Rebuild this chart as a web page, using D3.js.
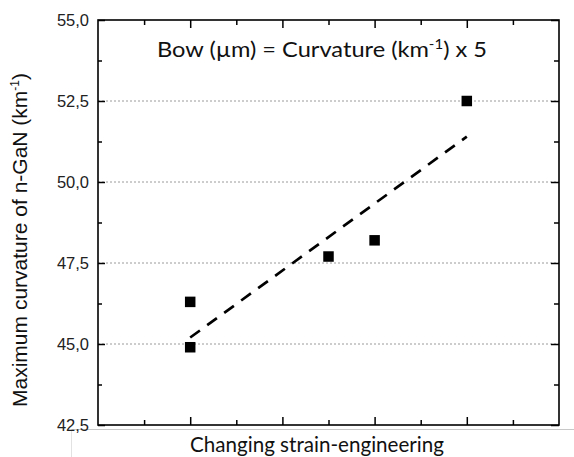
<!DOCTYPE html>
<html>
<head>
<meta charset="utf-8">
<script src="https://cdn.jsdelivr.net/npm/d3@7"></script>
<style>
  body { margin: 0; background: #fff; }
  #chart-container { width: 574px; height: 457px; }
</style>
</head>
<body>
<div id="chart-container"></div>
<script>
// measured points
var xValues = [1, 1, 2.5, 3, 4];
var yValues = [46.3, 44.9, 47.7, 48.2, 52.5];
// dashed fit line, ends
var fitX = [1, 4];
var fitY = [45.2, 51.4];
var yMajorTicks = [42.5, 45, 47.5, 50, 52.5, 55];
var yMinorTicks = [43.75, 46.25, 48.75, 51.25, 53.75];
var yGridTicks = [45, 47.5, 50, 52.5];
var xMajorTicks = [1, 2, 3, 4];
var xMinorTicks = [0.5, 1.5, 2.5, 3.5, 4.5];
var xTitle = "Changing strain-engineering";

var width = 574;
var height = 457;
var plotLeft = 98, plotRight = 559, plotTop = 20, plotBottom = 425;

var locale = d3.formatLocale({decimal: ",", thousands: ".", grouping: [3], currency: ["", ""]});
var fmt = locale.format(".1f");

var svg = d3.select("#chart-container").append("svg")
    .attr("width", width)
    .attr("height", height);

var x = d3.scaleLinear().domain([0, 5]).range([plotLeft, plotRight]);
var y = d3.scaleLinear().domain([42.5, 55]).range([plotBottom, plotTop]);

// faint frame of the pasted picture
svg.append("line")
    .attr("x1", 71).attr("x2", width).attr("y1", 429.5).attr("y2", 429.5)
    .attr("stroke", "#c8c8c8").attr("stroke-width", 1);
svg.append("line")
    .attr("x1", 71.5).attr("x2", 71.5).attr("y1", 429).attr("y2", height)
    .attr("stroke", "#e2e2e2").attr("stroke-width", 1);

// grid
svg.append("g").selectAll("line")
    .data(yGridTicks)
    .enter().append("line")
    .attr("x1", plotLeft).attr("x2", plotRight)
    .attr("y1", function(d) { return y(d); })
    .attr("y2", function(d) { return y(d); })
    .attr("stroke", "#9a9a9a")
    .attr("stroke-width", 1)
    .attr("stroke-dasharray", "2,2");

// axes, ticks pointing inwards
function tickAxis(axisFn, scale, ticks, size) {
    return axisFn(scale).tickValues(ticks).tickSize(-size).tickFormat("");
}
var axisGroups = [
    svg.append("g").attr("transform", "translate(0," + plotBottom + ")").call(tickAxis(d3.axisBottom, x, xMajorTicks, 8)),
    svg.append("g").attr("transform", "translate(0," + plotBottom + ")").call(tickAxis(d3.axisBottom, x, xMinorTicks, 5)),
    svg.append("g").attr("transform", "translate(0," + plotTop + ")").call(tickAxis(d3.axisTop, x, xMajorTicks, 8)),
    svg.append("g").attr("transform", "translate(0," + plotTop + ")").call(tickAxis(d3.axisTop, x, xMinorTicks, 5)),
    svg.append("g").attr("transform", "translate(" + plotLeft + ",0)").call(tickAxis(d3.axisLeft, y, yMajorTicks, 7)),
    svg.append("g").attr("transform", "translate(" + plotLeft + ",0)").call(tickAxis(d3.axisLeft, y, yMinorTicks, 4)),
    svg.append("g").attr("transform", "translate(" + plotRight + ",0)").call(tickAxis(d3.axisRight, y, yMajorTicks, 8)),
    svg.append("g").attr("transform", "translate(" + plotRight + ",0)").call(tickAxis(d3.axisRight, y, yMinorTicks, 5))
];
axisGroups.forEach(function(g) {
    g.select(".domain").remove();
    g.selectAll("line").attr("stroke", "#000").attr("stroke-width", 1.5);
});

svg.append("rect")
    .attr("x", plotLeft).attr("y", plotTop)
    .attr("width", plotRight - plotLeft).attr("height", plotBottom - plotTop)
    .attr("fill", "none")
    .attr("stroke", "#000")
    .attr("stroke-width", 1.6);

// y tick labels
svg.append("g").selectAll("text")
    .data(yMajorTicks)
    .enter().append("text")
    .attr("x", plotLeft - 9)
    .attr("y", function(d) { return y(d); })
    .attr("dy", "0.36em")
    .attr("text-anchor", "end")
    .attr("font-family", "Liberation Sans, Arial, sans-serif")
    .attr("font-size", 16.5)
    .attr("fill", "#222")
    .text(function(d) { return fmt(d); });

// fit line
var fitData = fitX.map(function(d, i) { return [d, fitY[i]]; });
svg.append("path")
    .datum(fitData)
    .attr("d", d3.line().x(function(d) { return x(d[0]); }).y(function(d) { return y(d[1]); }))
    .attr("fill", "none")
    .attr("stroke", "#000")
    .attr("stroke-width", 2.7)
    .attr("stroke-dasharray", "12,9");

// points
var sq = 10.5;
svg.append("g").selectAll("rect")
    .data(xValues)
    .enter().append("rect")
    .attr("x", function(d) { return x(d) - sq / 2; })
    .attr("y", function(d, i) { return y(yValues[i]) - sq / 2; })
    .attr("width", sq)
    .attr("height", sq)
    .attr("fill", "#000");

// title inside the plot
var title = svg.append("text")
    .attr("x", 157).attr("y", 57)
    .attr("font-family", "Lato, 'Open Sans', sans-serif")
    .attr("font-size", 22)
    .attr("fill", "#111")
    .attr("textLength", 330)
    .attr("lengthAdjust", "spacingAndGlyphs");
title.append("tspan").text("Bow (\u00b5m) = Curvature (km");
title.append("tspan").attr("dy", -8).attr("font-size", 14).text("-1");
title.append("tspan").attr("dy", 8).text(") x 5");

// x title
svg.append("text")
    .attr("x", 190).attr("y", 451.5)
    .attr("font-family", "Lato, 'Open Sans', sans-serif")
    .attr("font-size", 22)
    .attr("fill", "#111")
    .attr("textLength", 254)
    .attr("lengthAdjust", "spacingAndGlyphs")
    .text(xTitle);

// y title
var yTitle = svg.append("text")
    .attr("transform", "translate(27,240) rotate(-90)")
    .attr("text-anchor", "middle")
    .attr("font-family", "Liberation Sans, Arial, sans-serif")
    .attr("font-size", 21)
    .attr("fill", "#111")
    .attr("textLength", 334)
    .attr("lengthAdjust", "spacingAndGlyphs");
yTitle.append("tspan").text("Maximum curvature of n-GaN (km");
yTitle.append("tspan").attr("dy", -8).attr("font-size", 12).text("-1");
yTitle.append("tspan").attr("dy", 8).text(")");
</script>
</body>
</html>
